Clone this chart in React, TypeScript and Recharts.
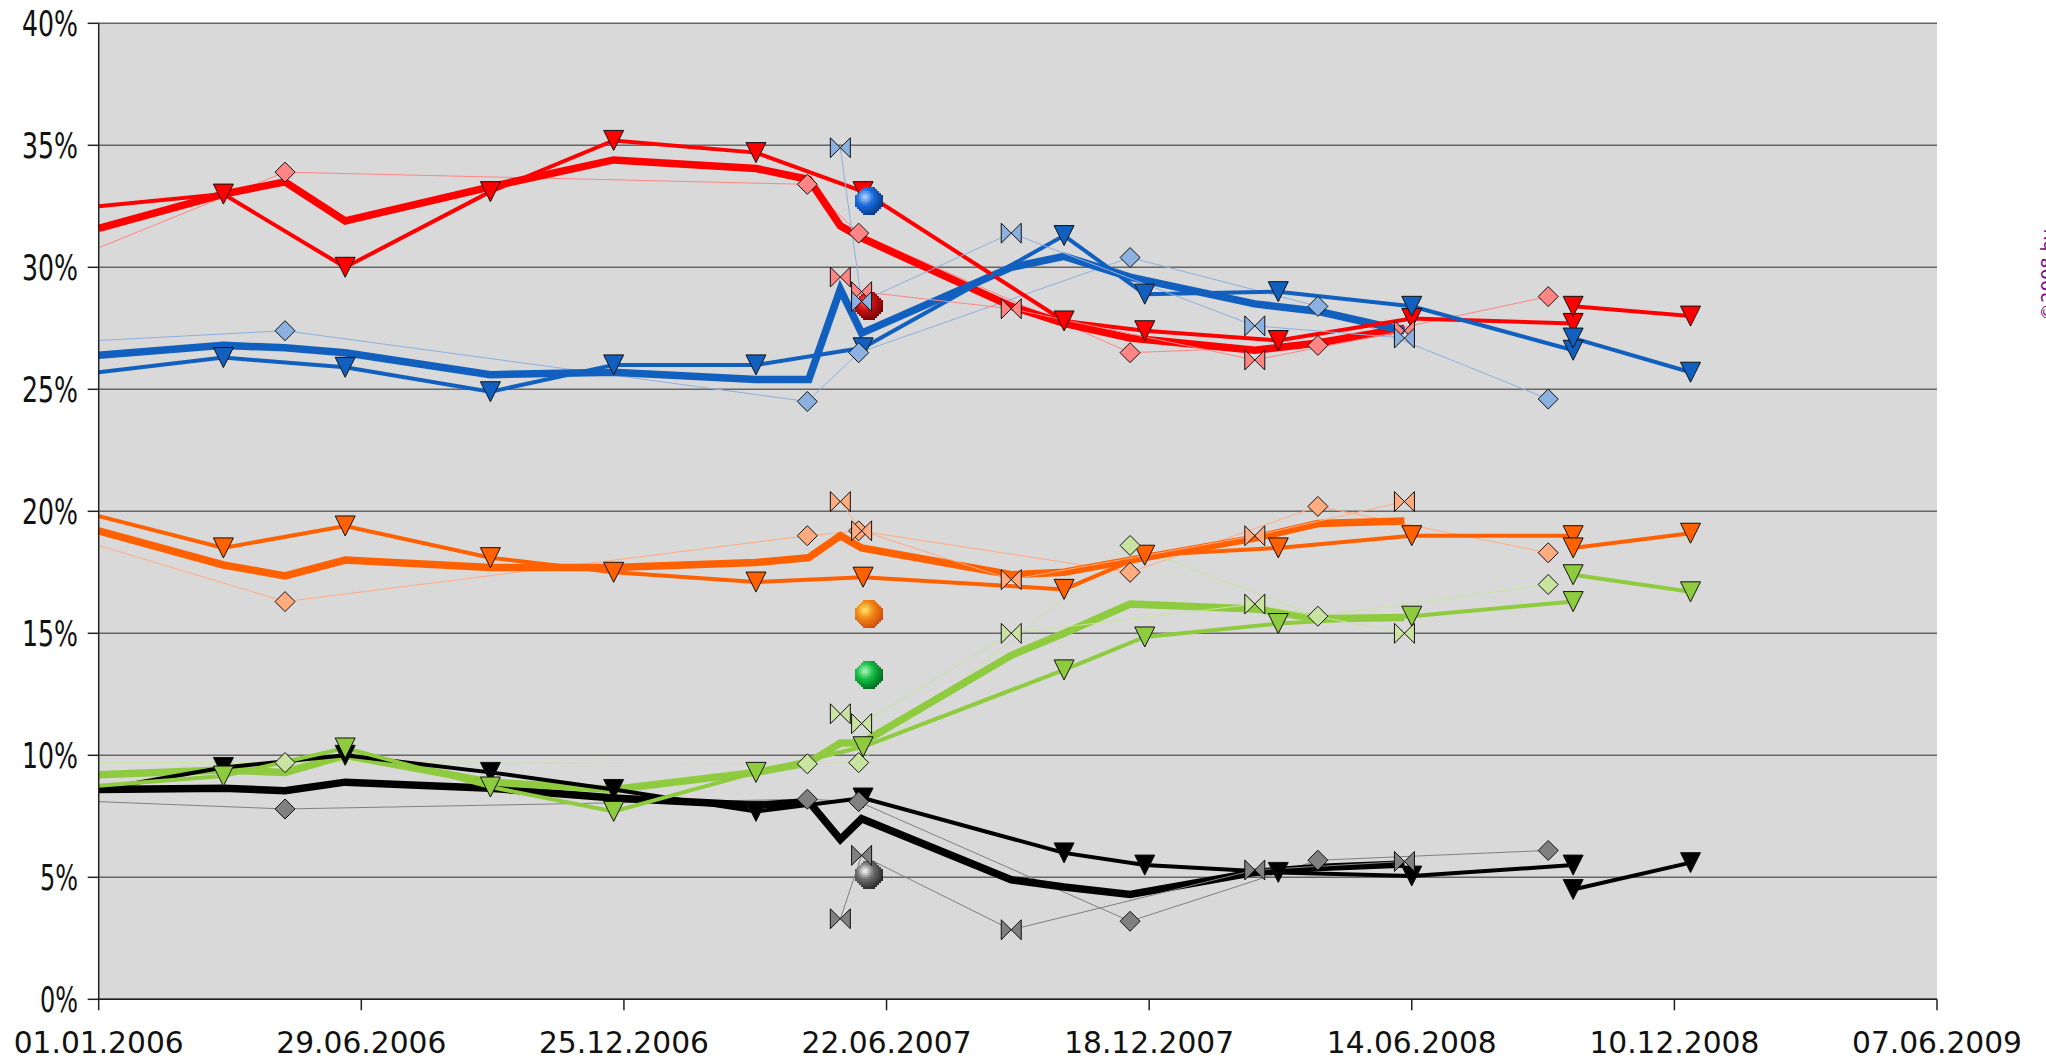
import { CartesianGrid, ComposedChart, Line, XAxis, YAxis } from "recharts";

// x positions are days since 01.01.2006
const xTicks = [0, 179, 358, 537, 716, 895, 1074, 1253];
const xLabels = ["01.01.2006", "29.06.2006", "25.12.2006", "22.06.2007", "18.12.2007", "14.06.2008", "10.12.2008", "07.06.2009"];
const yTicks = [0, 5, 10, 15, 20, 25, 30, 35, 40];

const triDays = [0, 85, 168, 267, 351, 448, 521, 658, 713, 804, 895, 1005];
const tailDays = [1005, 1085];
const avgDays = [0, 85, 127, 168, 267, 351, 448, 484, 505.5, 520, 622, 658, 703, 788, 831, 890];
const diaDays = [0, 127, 483, 518, 703, 831, 988];
const bowDays = [505.5, 520, 622, 788, 890];
const ballDay = 525;

const redTri = [32.5, 33.0, 30.0, 33.1, 35.2, 34.7, 33.1, 27.8, 27.4, 27.0, 27.9, 27.7];
const blueTri = [25.7, 26.3, 25.9, 24.9, 26.0, 26.0, 26.7, 31.3, 28.9, 29.0, 28.4, 26.6];
const orangeTri = [19.8, 18.5, 19.4, 18.1, 17.5, 17.1, 17.3, 16.8, 18.2, 18.5, 19.0, 19.0];
const greenTri = [8.75, 9.15, 10.3, 8.7, 7.7, 9.3, 10.35, 13.5, 14.85, 15.4, 15.7, 16.3];
const blackTri = [8.6, 9.5, 10.0, 9.3, 8.6, 7.7, 8.25, 6.0, 5.5, 5.2, 5.05, 5.5];

const redTail = [28.4, 28.0];
const blueTail = [27.1, 25.7];
const orangeTail = [18.5, 19.1];
const greenTail = [17.4, 16.7];
const blackTail = [4.5, 5.6];

const redAvg = [31.6, 33.0, 33.5, 31.9, 33.3, 34.4, 34.05, 33.6, 31.7, 31.2, 28.4, 27.7, 27.1, 26.6, 26.9, 27.5];
const blueAvg = [26.4, 26.8, 26.7, 26.5, 25.6, 25.7, 25.4, 25.4, 29.1, 27.3, 30.0, 30.45, 29.6, 28.5, 28.2, 27.4];
const orangeAvg = [19.2, 17.8, 17.35, 18.0, 17.7, 17.7, 17.9, 18.1, 19.0, 18.5, 17.4, 17.5, 18.0, 18.9, 19.5, 19.6];
const greenAvg = [9.2, 9.4, 9.3, 10.0, 8.9, 8.6, 9.3, 9.7, 10.5, 10.5, 14.1, 15.0, 16.2, 16.0, 15.6, 15.65];
const blackAvg = [8.6, 8.65, 8.55, 8.9, 8.65, 8.25, 7.95, 8.1, 6.55, 7.4, 4.9, 4.6, 4.3, 5.2, 5.4, 5.55];

const redDia = [30.8, 33.9, 33.4, 31.4, 26.5, 26.8, 28.8];
const blueDia = [27.0, 27.4, 24.5, 26.5, 30.4, 28.4, 24.6];
const orangeDia = [18.6, 16.3, 19.0, 19.2, 17.5, 20.2, 18.3];
const greenDia = [9.7, 9.7, 9.65, 9.7, 18.6, 15.7, 17.0];
const blackDia = [8.1, 7.8, 8.2, 8.1, 3.2, 5.7, 6.1];

const redBow = [29.6, 29.0, 28.3, 26.2, 27.4];
const blueBow = [34.9, 28.6, 31.4, 27.6, 27.1];
const orangeBow = [20.4, 19.2, 17.2, 19.0, 20.4];
const greenBow = [11.7, 11.3, 15.0, 16.2, 15.0];
const blackBow = [3.3, 5.9, 2.85, 5.3, 5.65];

const ballValues = [32.7, 28.4, 15.8, 13.3, 5.1];
const ballColors = [
  [[188, 216, 255], [26, 108, 224], [7, 48, 110]],
  [[255, 90, 90], [200, 18, 18], [106, 0, 0]],
  [[255, 232, 115], [240, 138, 20], [207, 63, 12]],
  [[184, 245, 196], [18, 191, 66], [5, 86, 29]],
  [[255, 255, 255], [110, 110, 110], [28, 28, 28]],
];

const zip = (xs: number[], ys: number[]) => xs.map((x, i) => ({ x, y: ys[i] }));

const triangleDot = (color: string) => (p: any) =>
  p.payload.x === 0 ? (
    <g key={p.index} />
  ) : (
    <path
      key={p.index}
      d={`M${p.cx - 10},${p.cy - 10}L${p.cx + 10},${p.cy - 10}L${p.cx},${p.cy + 10}Z`}
      fill={color}
      stroke="#111"
      strokeWidth={1}
    />
  );

const diamondDot = (color: string) => (p: any) => (
  <path
    key={p.index}
    d={`M${p.cx},${p.cy - 10}L${p.cx + 10},${p.cy}L${p.cx},${p.cy + 10}L${p.cx - 10},${p.cy}Z`}
    fill={color}
    stroke="#111"
    strokeWidth={1}
  />
);

const bowtieDot = (color: string) => (p: any) => (
  <path
    key={p.index}
    d={`M${p.cx - 10},${p.cy - 10}L${p.cx + 10},${p.cy + 10}L${p.cx + 10},${p.cy - 10}L${p.cx - 10},${p.cy + 10}Z`}
    fill={color}
    stroke="#111"
    strokeWidth={1}
  />
);

const mix = (a: number[], b: number[], t: number) => a.map((v, i) => Math.round(v + (b[i] - v) * t));

// the balls are small bitmaps in the original, so draw them as coarse blocks
const ballDot = (p: any) => {
  const [light, mid, dark] = ballColors[p.payload.i];
  const cells = [];
  for (let row = -7; row < 7; row++) {
    for (let col = -7; col < 7; col++) {
      if (Math.hypot(col + 0.5, row + 0.5) > 7) continue;
      const d = Math.min(1, Math.hypot(col + 2.5, row + 2.5) / 10.5);
      const c = d < 0.4 ? mix(light, mid, d / 0.4) : mix(mid, dark, (d - 0.4) / 0.6);
      cells.push(
        <rect
          key={`${row}_${col}`}
          x={Math.round(p.cx) + col * 2}
          y={Math.round(p.cy) + row * 2}
          width={2}
          height={2}
          fill={`rgb(${c.join(",")})`}
        />
      );
    }
  }
  return <g key={p.payload.i}>{cells}</g>;
};

const XTick = ({ x, y, payload }: any) => (
  <text
    x={x}
    y={y + 41}
    textAnchor="middle"
    fontFamily="DejaVu Sans"
    fontSize={31}
    fill="#111"
    textLength={170}
    lengthAdjust="spacingAndGlyphs"
  >
    {xLabels[xTicks.indexOf(payload.value)]}
  </text>
);

const YTick = ({ y, payload }: any) => {
  const label = `${payload.value}%`;
  return (
    <text
      x={78}
      y={y + 13}
      textAnchor="end"
      fontFamily="DejaVu Sans"
      fontSize={35}
      fill="#111"
      textLength={label.length === 2 ? 38 : 56}
      lengthAdjust="spacingAndGlyphs"
    >
      {label}
    </text>
  );
};

// drawn back to front: blue ends up on top of red, green on top of black
const groups = [
  { tri: redTri, tail: redTail, avg: redAvg, dia: redDia, bow: redBow, color: "#ff0000", pale: "#ff8585" },
  { tri: blackTri, tail: blackTail, avg: blackAvg, dia: blackDia, bow: blackBow, color: "#000000", pale: "#808080" },
  { tri: orangeTri, tail: orangeTail, avg: orangeAvg, dia: orangeDia, bow: orangeBow, color: "#ff6000", pale: "#ffab80" },
  { tri: greenTri, tail: greenTail, avg: greenAvg, dia: greenDia, bow: greenBow, color: "#8fcb3e", pale: "#c8e4a0" },
  { tri: blueTri, tail: blueTail, avg: blueAvg, dia: blueDia, bow: blueBow, color: "#1160bf", pale: "#8cb0df" },
];

export default function App() {
  return (
    <div style={{ position: "absolute", left: 0, top: 0, width: 2046, height: 1059, background: "#fff", overflow: "hidden" }}>
      <ComposedChart width={2046} height={1059} margin={{ top: 23.3, right: 109, bottom: 0, left: 0 }}>
        <CartesianGrid horizontal vertical={false} stroke="#666" strokeWidth={1.5} fill="#d9d9d9" />
        <XAxis
          dataKey="x"
          type="number"
          domain={[0, 1253]}
          ticks={xTicks}
          interval={0}
          height={59.7}
          tickSize={11}
          tick={<XTick />}
          stroke="#222"
          strokeWidth={1.5}
          allowDuplicatedCategory={false}
        />
        <YAxis
          type="number"
          domain={[0, 40]}
          ticks={yTicks}
          interval={0}
          width={98.7}
          tickSize={11}
          tick={<YTick />}
          stroke="#222"
          strokeWidth={1.5}
        />

        {groups.map((g, i) => (
          <Line key={`dia${i}`} data={zip(diaDays, g.dia)} dataKey="y" stroke={g.pale} strokeWidth={1} dot={false} isAnimationActive={false} />
        ))}
        {groups.map((g, i) => (
          <Line key={`avg${i}`} data={zip(avgDays, g.avg)} dataKey="y" stroke={g.color} strokeWidth={7.5} dot={false} isAnimationActive={false} />
        ))}
        {groups.map((g, i) => (
          <Line key={`tri${i}`} data={zip(triDays, g.tri)} dataKey="y" stroke={g.color} strokeWidth={4} dot={triangleDot(g.color)} isAnimationActive={false} />
        ))}
        {groups.map((g, i) => (
          <Line key={`tail${i}`} data={zip(tailDays, g.tail)} dataKey="y" stroke={g.color} strokeWidth={4} dot={triangleDot(g.color)} isAnimationActive={false} />
        ))}
        {groups.map((g, i) => (
          <Line key={`diaDot${i}`} data={zip(diaDays.slice(1), g.dia.slice(1))} dataKey="y" stroke="none" dot={diamondDot(g.pale)} isAnimationActive={false} />
        ))}
        <Line
          data={ballValues.map((y, i) => ({ x: ballDay, y, i }))}
          dataKey="y"
          stroke="none"
          dot={ballDot}
          isAnimationActive={false}
        />
        {groups.map((g, i) => (
          <Line key={`bow${i}`} data={zip(bowDays, g.bow)} dataKey="y" stroke={g.pale} strokeWidth={1} dot={bowtieDot(g.pale)} isAnimationActive={false} />
        ))}
      </ComposedChart>
      <svg width={2046} height={1059} style={{ position: "absolute", left: 0, top: 0, pointerEvents: "none" }}>
        <text x={2054} y={321} transform="rotate(-90 2054 321)" fontFamily="DejaVu Sans" fontSize={18} fill="#800080">
          ©2008 by
        </text>
      </svg>
    </div>
  );
}
